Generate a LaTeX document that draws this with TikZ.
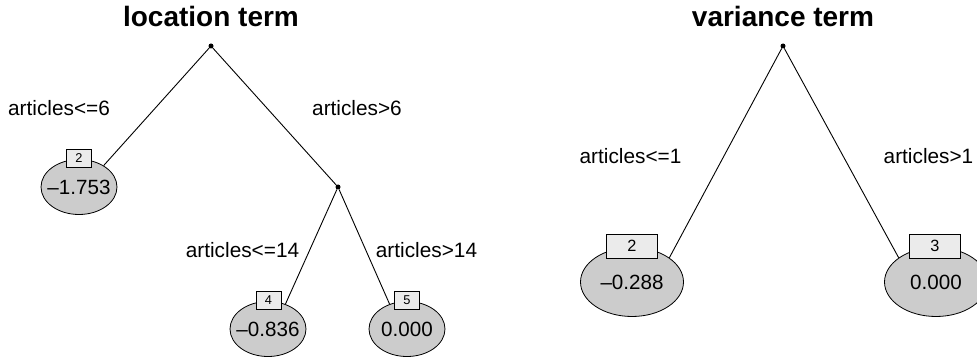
\documentclass[tikz,border=0pt]{standalone}
\usepackage{fontspec}
\setmainfont{Liberation Sans}
\usetikzlibrary{shapes.geometric}
\definecolor{leafgray}{HTML}{CCCCCC}
\definecolor{boxgray}{HTML}{EBEBEB}
\tikzset{
  dotnode/.style={circle,fill=black,inner sep=0pt,minimum size=5pt},
  edge/.style={draw=black,line width=0.9pt},
  leafA/.style={ellipse,draw=black,line width=0.8pt,fill=leafgray,inner sep=0pt,minimum width=76pt,minimum height=55pt,font=\fontsize{20.6}{24}\selectfont},
  leafB/.style={ellipse,draw=black,line width=0.8pt,fill=leafgray,inner sep=0pt,minimum width=103pt,minimum height=69pt,font=\fontsize{20.6}{24}\selectfont},
  idA/.style={rectangle,draw=black,line width=0.8pt,fill=boxgray,inner sep=0pt,minimum width=25pt,minimum height=18pt,font=\fontsize{12.8}{14}\selectfont},
  idB/.style={rectangle,draw=black,line width=0.8pt,fill=boxgray,inner sep=0pt,minimum width=51pt,minimum height=24pt,font=\fontsize{16.3}{18}\selectfont},
  lbl/.style={anchor=base,inner sep=0pt,font=\fontsize{20.8}{24}\selectfont},
  ttl/.style={anchor=base,inner sep=0pt,font=\fontsize{28}{32}\selectfont\bfseries},
}
\newcommand{\zbox}[1]{\makebox[0pt]{#1}}
\begin{document}
\begin{tikzpicture}[x=1pt,y=-1pt]
\clip (0,0) rectangle (977,358);
\fill[white] (0,0) rectangle (977,358);
% titles
\node[ttl] (t1) at (211,27) {location term};
\node[ttl] (t2) at (783,27) {variance term};
% inner nodes
\node[dotnode] (r1) at (211,46) {};
\node[dotnode] (n3) at (338,187) {};
\node[dotnode] (r2) at (783,46) {};
% leaves
\node[leafA] (n2) at (79,187) {\zbox{–1.753}};
\node[leafA] (n4) at (268,329) {\zbox{–0.836}};
\node[leafA] (n5) at (407,329) {\zbox{0.000}};
\node[leafB] (m2) at (632,282) {\zbox{–0.288}};
\node[leafB] (m3) at (936,282) {\zbox{0.000}};
% edges
\draw[edge] (r1) -- (n2.41.5);
\draw[edge] (r1) -- (n3);
\draw[edge] (n3) -- (n4.55);
\draw[edge] (n3) -- (n5.125);
\draw[edge] (r2) -- (m2.33);
\draw[edge] (r2) -- (m3.147);
% id boxes
\node[idA] (b2) at (79,158.5) {2};
\node[idA] (b4) at (268.5,300) {4};
\node[idA] (b5) at (407,300) {5};
\node[idB] (c2) at (632,246) {2};
\node[idB] (c3) at (935,246) {3};
% edge labels
\node[lbl] (l1) at (59,116) {articles<=6};
\node[lbl] (l2) at (357,116) {articles>6};
\node[lbl] (l3) at (242.5,257.5) {articles<=14};
\node[lbl] (l4) at (426.5,257.5) {articles>14};
\node[lbl] (l5) at (630.5,163.3) {articles<=1};
\node[lbl] (l6) at (928.5,163.3) {articles>1};
\end{tikzpicture}
\end{document}
